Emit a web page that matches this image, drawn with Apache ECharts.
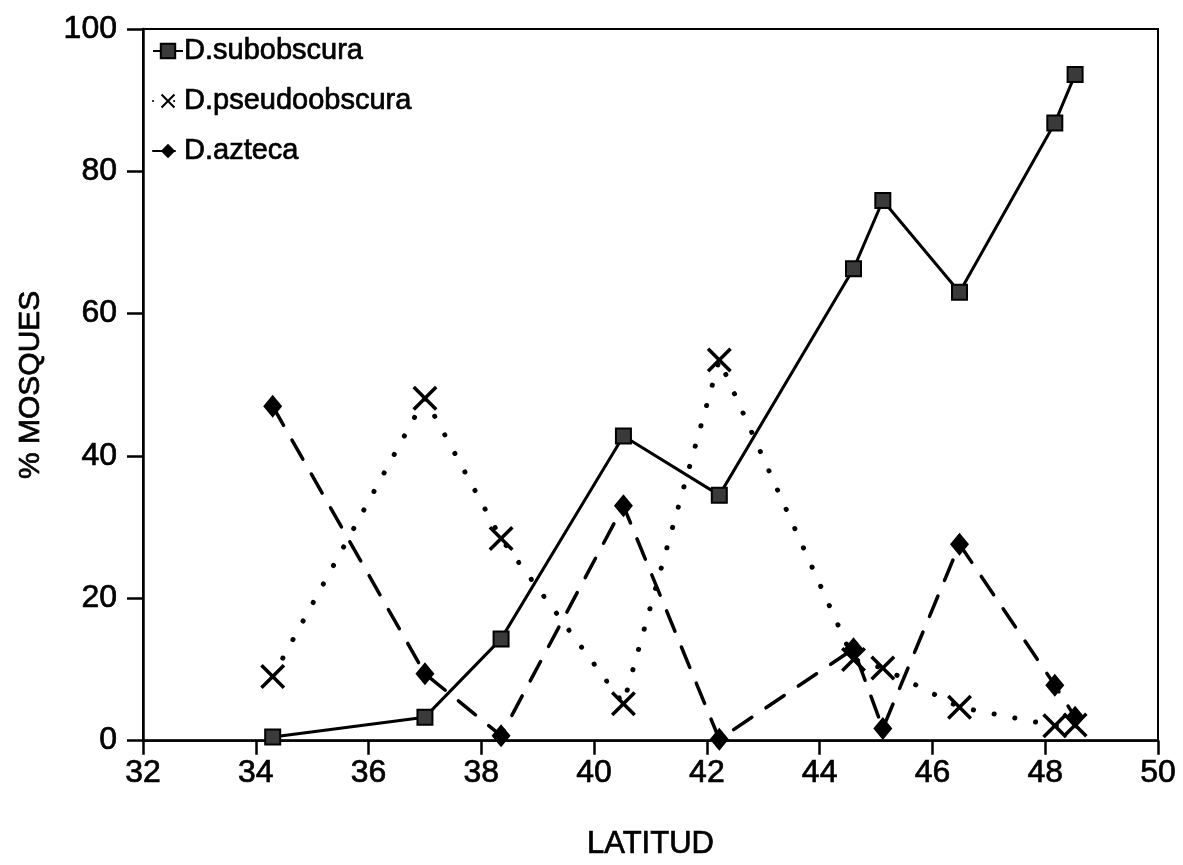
<!DOCTYPE html>
<html>
<head>
<meta charset="utf-8">
<script src="https://cdn.jsdelivr.net/npm/echarts@6/dist/echarts.min.js"></script>
<style>
  html, body { margin: 0; padding: 0; background: #fff; }
  #chart { width: 1183px; height: 865px; }
</style>
</head>
<body>
<div id="chart"></div>
<script>
// Latitudes of the sampled populations (degrees N)
const latitudes = [34.3, 37.0, 38.35, 40.52, 42.22, 44.6, 45.12, 46.48, 48.17, 48.53];

// Percentage of flies captured per species at each latitude
const subobscura    = [0.5, 3.3, 14.3, 42.8, 34.5, 66.3, 75.9, 63.0, 86.8, 93.6];
const pseudoobscura = [9.0, 48.1, 28.4, 5.2, 53.5, 11.4, 10.2, 4.7, 2.1, 2.2];
const azteca        = [47.0, 9.4, 0.7, 33.0, 0.2, 12.9, 1.7, 27.6, 7.8, 3.3];

const seriesNames = ['D.subobscura', 'D.pseudoobscura', 'D.azteca'];
const xTicks = [32, 50, 2];    // min, max, step
const yTicks = [0, 100, 20];   // min, max, step

const pairs = (ys) => latitudes.map((x, i) => [x, ys[i]]);

const FONT = '"Liberation Sans", Arial, Helvetica, sans-serif';
// slightly heavier strokes for all text
const heavy = { textBorderColor: '#000', textBorderWidth: 0.7 };
const crossPath = 'path://M2,0 L10,8 L18,0 L20,2 L12,10 L20,18 L18,20 L10,12 L2,20 L0,18 L8,10 L0,2 Z';

const chart = echarts.init(document.getElementById('chart'), null, { renderer: 'canvas' });

chart.setOption({
  backgroundColor: '#ffffff',
  animation: false,
  textStyle: { fontFamily: FONT, color: '#000' },
  grid: {
    left: 143, right: 25, top: 29, bottom: 123,
    show: true, borderColor: '#000', borderWidth: 2, backgroundColor: 'transparent'
  },
  legend: {
    orient: 'vertical',
    left: 147, top: 31,
    itemWidth: 30, itemHeight: 18, itemGap: 20,
    textStyle: Object.assign({ fontFamily: FONT, fontSize: 29, color: '#000', lineHeight: 30, padding: [0, 0, 0, -4] }, heavy),
    data: seriesNames
  },
  xAxis: {
    type: 'value',
    min: xTicks[0], max: xTicks[1], interval: xTicks[2],
    name: 'LATITUD', nameLocation: 'middle', nameGap: 88,
    nameTextStyle: Object.assign({ fontFamily: FONT, fontSize: 31, color: '#000' }, heavy),
    axisLine: { lineStyle: { color: '#000', width: 2.5 } },
    axisTick: { show: true, inside: false, length: 14, lineStyle: { color: '#000', width: 2.5 } },
    axisLabel: Object.assign({ fontFamily: FONT, fontSize: 32, color: '#000', margin: 17 }, heavy),
    splitLine: { show: false }
  },
  yAxis: {
    type: 'value',
    min: yTicks[0], max: yTicks[1], interval: yTicks[2],
    name: '% MOSQUES', nameLocation: 'middle', nameGap: 97, nameRotate: 90,
    nameTextStyle: Object.assign({ fontFamily: FONT, fontSize: 30, color: '#000' }, heavy),
    axisLine: { show: true, lineStyle: { color: '#000', width: 2.5 } },
    axisTick: { show: true, inside: false, length: 16, lineStyle: { color: '#000', width: 2.5 } },
    axisLabel: Object.assign({ fontFamily: FONT, fontSize: 32, color: '#000', margin: 26 }, heavy),
    splitLine: { show: false }
  },
  series: [
    {
      name: seriesNames[0], type: 'line', data: pairs(subobscura),
      symbol: 'rect', symbolSize: 15,
      itemStyle: { color: '#3a3a3a', borderColor: '#000', borderWidth: 2 },
      lineStyle: { color: '#000', width: 3, type: 'solid' },
      z: 3
    },
    {
      name: seriesNames[1], type: 'line', data: pairs(pseudoobscura),
      symbol: crossPath, symbolSize: 25,
      itemStyle: { color: '#000', borderWidth: 0 },
      lineStyle: { color: '#000', width: 5, type: [0.1, 21], cap: 'round' },
      z: 2
    },
    {
      name: seriesNames[2], type: 'line', data: pairs(azteca),
      symbol: 'diamond', symbolSize: [19, 23],
      itemStyle: { color: '#000', borderWidth: 0 },
      lineStyle: { color: '#000', width: 3.5, type: [22, 17], cap: 'round' },
      z: 2
    }
  ]
});
</script>
</body>
</html>
